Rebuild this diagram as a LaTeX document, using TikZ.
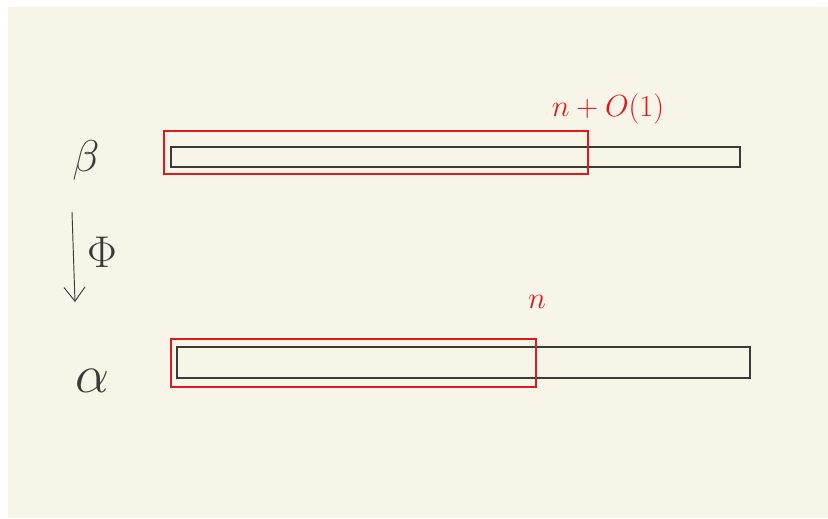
\documentclass[tikz,border=0pt]{standalone}
\usepackage{fix-cm}
\usepackage{amsmath}
\usepackage{tikz}
\usetikzlibrary{arrows, arrows.meta, positioning, fit}
\definecolor{paper}{HTML}{F7F4E8}
\definecolor{ink}{HTML}{3A3A36}
\definecolor{pen}{HTML}{E0191E}
\tikzstyle{barbox} = [draw=ink, line width=1pt, inner sep=0pt]
\tikzstyle{window} = [draw=pen, line width=0.9pt, inner sep=0pt]
\tikzstyle{greek} = [text=ink, font=\fontsize{38}{42}\selectfont]
\tikzstyle{note} = [text=pen, font=\fontsize{26}{30}\selectfont]
\tikzstyle{line} = [draw=ink, line width=0.8pt,
	-{Straight Barb[length=12pt, width=18pt, line width=0.8pt]}]

\begin{document}
\begin{tikzpicture}[x=0.03cm, y=-0.03cm]
		\useasboundingbox (0,0) rectangle (828,518);
		\fill [paper] (8,7) rectangle (828,518);

		% the two bars
		\node [barbox, fit={(171,147) (740,167)}] (betabar) {};
		\node [barbox, fit={(177,347) (750,378)}] (alphabar) {};
		\node [window, fit={(164,131) (588,174)}] (betawin) {};
		\node [window, fit={(171,339) (536,387)}] (alphawin) {};

		\node [greek] (beta) at (86,160) {$\beta$};
		\node [greek, font=\fontsize{46}{50}\selectfont] (alpha) at (92,381) {$\alpha$};

		\coordinate (phitop) at (72,212);
		\coordinate (phibot) at (75,302);
		\path [line] (phitop) -- (phibot);
		\node [greek] (phi) at (102,252) {$\Phi$};

		\node [note] (nplus) at (608,109) {$n+O(1)$};
		\node [note] (nlab) at (537,302) {$n$};
	\end{tikzpicture}
\end{document}
